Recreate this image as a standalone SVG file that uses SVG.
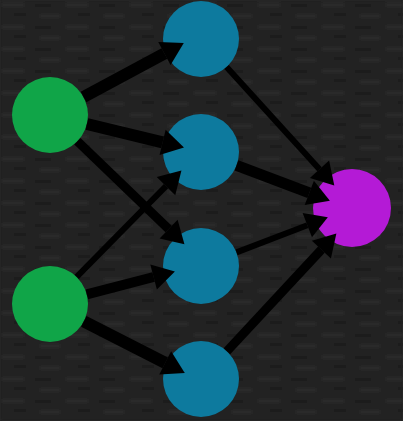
<svg xmlns="http://www.w3.org/2000/svg" width="403" height="421" viewBox="0 0 403 421">
  <defs>
    <pattern id="tex" width="64" height="22" patternUnits="userSpaceOnUse">
      <rect width="64" height="22" fill="#242424"/>
      <rect x="2" y="3" width="22" height="4" rx="2" fill="#2b2b2b"/>
      <rect x="34" y="4" width="18" height="3" rx="1.5" fill="#1e1e1e"/>
      <rect x="12" y="13" width="16" height="3" rx="1.5" fill="#1f1f1f"/>
      <rect x="40" y="14" width="20" height="4" rx="2" fill="#2a2a2a"/>
    </pattern>
    <filter id="soft" x="0" y="0" width="1" height="1">
      <feGaussianBlur stdDeviation="1.5"/>
    </filter>
    <marker id="head" markerUnits="userSpaceOnUse" viewBox="0 -14 24 28" refX="0" refY="0" markerWidth="24" markerHeight="28" orient="auto" overflow="visible">
      <path d="M0,-13 L22,0 L0,13 Z" fill="#000"/>
    </marker>
    <style>
      .c { stroke: #000; fill: none; marker-end: url(#head); }
      .green { fill: #10a548; }
      .blue { fill: #0d7a9e; }
      .mag { fill: #b41ad6; }
    </style>
  </defs>
  <rect width="403" height="421" fill="#242424"/>
  <rect width="403" height="421" fill="url(#tex)" filter="url(#soft)"/>
  <g id="nodes">
    <g id="in1"><circle class="green" cx="50" cy="115" r="38"/></g>
    <g id="in2"><circle class="green" cx="50" cy="304" r="38"/></g>
    <g id="h1"><circle class="blue" cx="201" cy="39" r="38"/></g>
    <g id="h2"><circle class="blue" cx="201" cy="152" r="38"/></g>
    <g id="h3"><circle class="blue" cx="201" cy="266" r="38"/></g>
    <g id="h4"><circle class="blue" cx="201" cy="379" r="38"/></g>
    <g id="out"><circle class="mag" cx="352" cy="208" r="39"/></g>
  </g>
  <g id="connectors">
    <path class="c" stroke-width="12" d="M83.5,97 L164.4,53.5"/>
    <path class="c" stroke-width="12" d="M86.9,124 L162.6,142.3"/>
    <path class="c" stroke-width="9" d="M77.4,141.3 L168.6,229.1"/>
    <path class="c" stroke-width="6" d="M76.7,276.9 L166,186.2"/>
    <path class="c" stroke-width="10" d="M86.8,294.4 L153.6,277"/>
    <path class="c" stroke-width="12" d="M83.8,321.3 L165.2,362.9"/>
    <path class="c" stroke-width="6" d="M226.6,67.1 L319.5,169.2"/>
    <path class="c" stroke-width="11" d="M236.5,165.4 L309.3,192.9"/>
    <path class="c" stroke-width="6" d="M236.5,252.4 L307.3,225.2"/>
    <path class="c" stroke-width="9" d="M226.9,351.2 L321.4,249.6"/>
  </g>
</svg>
